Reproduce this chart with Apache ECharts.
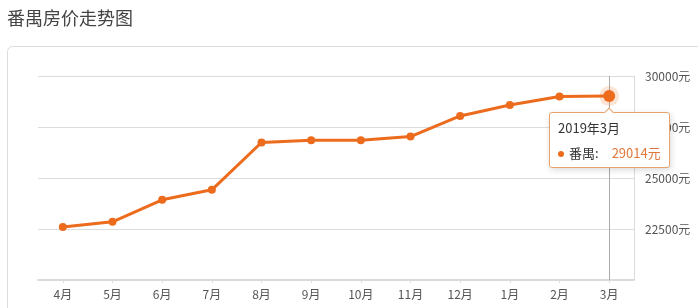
<!DOCTYPE html>
<html>
<head>
<meta charset="utf-8">
<script src="https://cdn.jsdelivr.net/npm/echarts@6/dist/echarts.min.js"></script>
<style>
  html, body { margin: 0; padding: 0; background: #fff; }
  #chart { width: 698px; height: 308px; }
</style>
</head>
<body>
<div id="chart"></div>
<script>
const chartTitle = '番禺房价走势图';
const seriesName = '番禺';
const categories = ['4月', '5月', '6月', '7月', '8月', '9月', '10月', '11月', '12月', '1月', '2月', '3月'];
const fullDates = ['2018年4月', '2018年5月', '2018年6月', '2018年7月', '2018年8月', '2018年9月', '2018年10月', '2018年11月', '2018年12月', '2019年1月', '2019年2月', '2019年3月'];
const prices = [22600, 22850, 23930, 24420, 26740, 26850, 26850, 27030, 28040, 28580, 28990, 29014];
const yTicks = [20000, 22500, 25000, 27500, 30000];
const unit = '元';

const FONT = '"Noto Sans CJK SC", "Noto Sans", sans-serif';
const CSSFONT = FONT.replace(/"/g, "'");
const ORANGE = '#ec6b1d';
const hi = prices.length - 1;

const chart = echarts.init(document.getElementById('chart'), null, { renderer: 'canvas' });
chart.setOption({
  animation: false,
  title: {
    text: chartTitle,
    left: 7, top: 9, padding: 0,
    textStyle: { fontFamily: FONT, fontSize: 18, fontWeight: 'normal', color: '#444' }
  },
  graphic: [{
    type: 'rect', z: -10, silent: true,
    shape: { x: 7.5, y: 46.5, width: 720, height: 300, r: 5 },
    style: { fill: 'none', stroke: '#dcdcdc', lineWidth: 1 }
  }],
  grid: { left: 38, right: 64, top: 76, bottom: 28 },
  tooltip: {
    trigger: 'item',
    triggerOn: 'none',
    alwaysShowContent: true,
    transitionDuration: 0,
    position: 'bottom',
    backgroundColor: '#fff',
    borderColor: '#e8a46c',
    borderWidth: 1,
    padding: [5, 8, 4, 8],
    extraCssText: 'box-shadow: 1px 2px 6px rgba(0,0,0,0.15); border-radius: 3px;',
    formatter: function (p) {
      const i = p.dataIndex;
      return '<div style="font-family:' + CSSFONT + ';font-size:13px;color:#333;line-height:20px;">' +
        fullDates[i] + '</div>' +
        '<div style="font-family:' + CSSFONT + ';font-size:13px;color:#333;line-height:20px;margin-top:5px;">' +
        '<span style="display:inline-block;width:6px;height:6px;border-radius:3px;background:' + ORANGE + ';margin-right:5px;vertical-align:middle;"></span>' +
        seriesName + ':<span style="color:#e0783a;margin-left:13px;">' + prices[i] + unit + '</span></div>';
    }
  },
  xAxis: {
    type: 'category',
    data: categories,
    boundaryGap: true,
    axisLine: { show: true, lineStyle: { color: '#dadada', width: 2 } },
    axisTick: { show: true, alignWithLabel: true, length: 3, lineStyle: { color: '#ddd' } },
    axisLabel: { fontFamily: FONT, fontSize: 12, color: '#555', margin: 8 },
    splitLine: { show: false },
    axisPointer: {
      show: true, value: hi, status: 'show', type: 'line', z: 1,
      triggerTooltip: false,
      lineStyle: { color: '#aaa', width: 1, type: 'solid' },
      label: { show: false }
    }
  },
  yAxis: {
    type: 'value',
    position: 'right',
    min: yTicks[0],
    max: yTicks[yTicks.length - 1],
    interval: yTicks[1] - yTicks[0],
    axisLine: { show: true, lineStyle: { color: '#dcdcdc', width: 1 } },
    axisTick: { show: false },
    axisLabel: {
      fontFamily: FONT, fontSize: 12, color: '#555', margin: 11,
      formatter: function (v) { return v === yTicks[0] ? '' : v + unit; }
    },
    splitLine: {
      show: true,
      lineStyle: { color: '#dcdcdc', width: 1 }
    }
  },
  series: [
    {
      type: 'scatter',
      silent: true,
      z: 1,
      data: [[hi, prices[hi]]],
      symbolSize: 20,
      itemStyle: { color: 'rgba(236,107,29,0.22)' },
      tooltip: { show: false }
    },
    {
      type: 'line',
      name: seriesName,
      z: 3,
      data: prices,
      symbol: 'circle',
      symbolSize: function (v, p) { return p.dataIndex === hi ? 12 : 8; },
      showAllSymbol: true,
      lineStyle: { color: ORANGE, width: 3 },
      itemStyle: { color: ORANGE, borderWidth: 0 },
      emphasis: { disabled: true }
    }
  ]
});
chart.dispatchAction({ type: 'showTip', seriesIndex: 1, dataIndex: hi });
</script>
</body>
</html>
